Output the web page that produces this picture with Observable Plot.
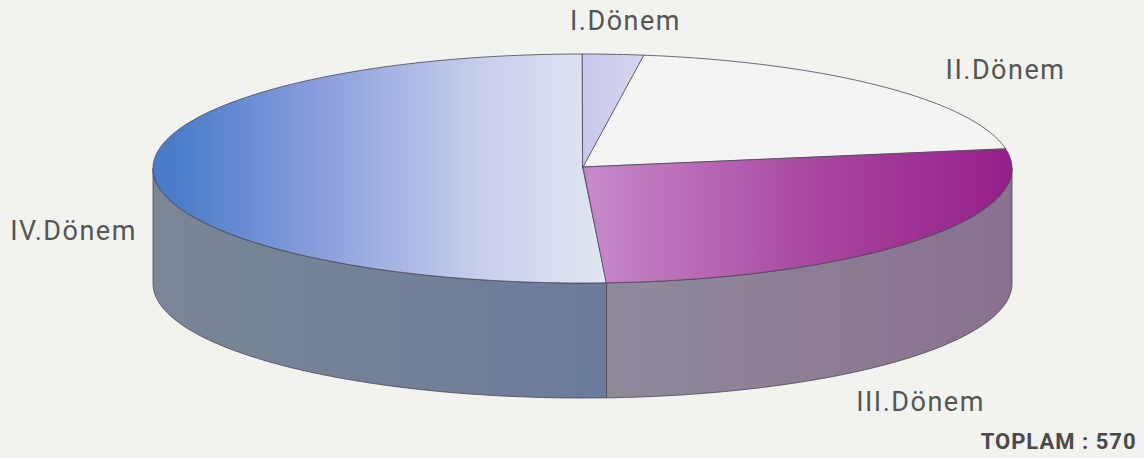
<!DOCTYPE html>
<html><head><meta charset="utf-8">
<script src="https://cdn.jsdelivr.net/npm/d3@7"></script>
<script src="https://cdn.jsdelivr.net/npm/@observablehq/plot@0.6"></script>
<style>html,body{margin:0;padding:0;background:#f2f2ee;overflow:hidden}svg{display:block}
.lab text{letter-spacing:1.5px}.tot text{letter-spacing:1px}</style>
</head><body><div id="chart"></div>
<script>
const categories = ["I.Dönem", "II.Dönem", "III.Dönem", "IV.Dönem"];
const values = [13, 114, 153, 290];
const total = d3.sum(values);
const labelX = [625, 1005, 920, 73];
const labelY = [21, 70, 402, 231];
const labels = categories.map((name, i) => ({name, x: labelX[i], y: labelY[i]}));
const totalLabel = ["TOPLAM : 570"];

const cx = 582.5, cy = 168.5, rx = 429.5, ry = 114.5, depth = 115;
const apex = {x: 583, y: 167};
const ends = d3.cumsum(values).map(v => v / total * 2 * Math.PI);
const starts = [0, ...ends.slice(0, -1)];
const arc = (a0, a1) => {
  const n = Math.max(2, Math.ceil((a1 - a0) * 60));
  return d3.range(n + 1).map(k => {
    const a = a0 + (a1 - a0) * k / n;
    return {x: cx + rx * Math.sin(a), y: cy - ry * Math.cos(a)};
  });
};

const grads = [
  {id: "g1", x1: 583, x2: 645, stops: ["#c8c8ea", "#d6d6ee"]},
  {id: "g2", x1: 583, x2: 1003, stops: ["#f4f4f3", "#f4f4f3"]},
  {id: "g3", x1: 590, x2: 1005, stops: ["#c689c8", "#a8459f", "#96208a"], at: [0, .55, 1]},
  {id: "g4", x1: 175, x2: 600, stops: ["#4a7cc9", "#8b9fdc", "#c9cfec", "#e0e5f0"], at: [0, .35, .72, 1]},
  {id: "s3", x1: 606, x2: 1012, stops: ["#8f8a9b", "#8a7090"]},
  {id: "s4", x1: 153, x2: 606, stops: ["#7a8696", "#6b7b9b"]}
];
const defs = (index, {x, y}) => {
  const g = d3.create("svg:defs");
  for (const d of grads) {
    const lg = g.append("linearGradient").attr("id", d.id)
      .attr("gradientUnits", "userSpaceOnUse")
      .attr("x1", x(d.x1)).attr("x2", x(d.x2)).attr("y1", 0).attr("y2", 0);
    d.stops.forEach((c, i) => lg.append("stop")
      .attr("offset", d.at ? d.at[i] : i / (d.stops.length - 1)).attr("stop-color", c));
  }
  return g.node();
};

const sideMark = (a0, a1, fill) => Plot.areaY(arc(a0, a1), {
  x: "x", y1: "y", y2: d => d.y + depth, fill, stroke: "#4a4658", strokeWidth: 0.8
});
const topMark = (i) => Plot.area(arc(starts[i], ends[i]), {
  x1: apex.x, y1: apex.y, x2: "x", y2: "y",
  fill: `url(#${["g1", "g2", "g3", "g4"][i]})`, stroke: "#4a4658", strokeWidth: 0.8
});

const plot = Plot.plot({
  width: 1144, height: 458, margin: 0,
  style: {background: "#f2f2ee"},
  x: {domain: [0, 1144], range: [0, 1144], axis: null},
  y: {domain: [0, 458], range: [0, 458], axis: null},
  marks: [
    defs,
    sideMark(Math.PI / 2, ends[2], "url(#s3)"),
    sideMark(ends[2], 1.5 * Math.PI, "url(#s4)"),
    topMark(3), topMark(1), topMark(2), topMark(0),
    Plot.text(labels, {x: "x", y: "y", text: "name", fontFamily: "Roboto", fontSize: 27, fill: "#555555", className: "lab"}),
    Plot.text(totalLabel, {x: () => 1136, y: () => 441, text: d => d, textAnchor: "end",
      fontFamily: "Roboto", fontWeight: 700, fontSize: 22, fill: "#4a4a4a", className: "tot"})
  ]
});
document.getElementById("chart").append(plot);
</script></body></html>
